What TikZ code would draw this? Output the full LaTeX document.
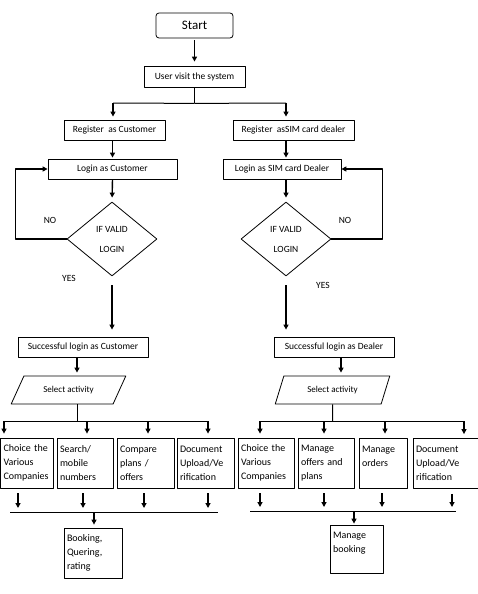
\documentclass[tikz,border=0pt]{standalone}
\usepackage{fontspec}
\setmainfont{Carlito}
\usetikzlibrary{shapes.geometric,arrows.meta}
\tikzset{
  box/.style={draw, line width=0.8pt, inner sep=0pt, font=\fontsize{9.5}{11}\selectfont},
  act/.style={draw, line width=0.8pt, inner sep=3pt, align=left, minimum height=50pt, font=\fontsize{10}{14}\selectfont},
  dia/.style={draw, line width=0.8pt, diamond, inner sep=0pt, minimum width=90pt, minimum height=74pt, align=center, font=\fontsize{9.5}{11}\selectfont},
  para/.style={draw, line width=0.8pt, trapezium, trapezium stretches, inner sep=0pt, minimum width=115pt, minimum height=28pt, font=\fontsize{9}{11}\selectfont},
  lbl/.style={font=\fontsize{9.5}{11}\selectfont},
  arr/.style={line width=1.4pt, -{Triangle[length=5pt,width=5pt]}},
  ln/.style={line width=1pt},
}
\begin{document}
\begin{tikzpicture}[x=1pt,y=-1pt,line join=round]
\useasboundingbox (0,0) rectangle (477,594);

\node[box, rounded corners=3pt, minimum width=77pt, minimum height=25pt, font=\fontsize{13}{15}\selectfont] (start) at (194.5,25.5) {Start};
\node[box, minimum width=101pt, minimum height=21pt] (visit) at (194.5,76.5) {User visit the system};
\node[box, minimum width=101pt, minimum height=20pt] (regc) at (114.5,130) {Register\ \ as Customer};
\node[box, minimum width=121pt, minimum height=20pt] (regd) at (293.5,130) {Register\ \ asSIM card dealer};
\node[box, minimum width=129pt, minimum height=20pt] (logc) at (112.5,169) {Login as Customer};
\node[box, minimum width=118pt, minimum height=20pt] (logd) at (282,169) {Login as SIM card Dealer};
\node[dia] (diac) at (112,239) {IF VALID\\[9pt]LOGIN};
\node[dia] (diad) at (286,239) {IF VALID\\[9pt]LOGIN};
\node[lbl] (noc) at (50,220) {NO};
\node[lbl] (nod) at (345,220) {NO};
\node[lbl] (yesc) at (69,278) {YES};
\node[lbl] (yesd) at (323,285) {YES};
\node[box, minimum width=130pt, minimum height=20pt] (succ) at (83,347) {Successful login as Customer};
\node[box, minimum width=120pt, minimum height=20pt] (sucd) at (334,347) {Successful login as Dealer};
\node[para, trapezium left angle=47, trapezium right angle=133] (selc) at (68.5,390) {Select activity};
\node[para, trapezium left angle=60, trapezium right angle=120] (seld) at (332.5,390) {Select activity};

\node[act, text width=47pt] (c1) at (27,463) {Choice the\\Various\\Companies};
\node[act, text width=50pt] (c2) at (85,463) {Search/\\mobile\\numbers};
\node[act, text width=51pt] (c3) at (145.5,463) {Compare\\plans /\\offers};
\node[act, text width=51pt] (c4) at (205.5,463) {Document\\Upload/Ve\\rification};
\node[act, text width=50pt] (d1) at (266,463) {Choice the\\Various\\Companies};
\node[act, text width=50pt] (d2) at (326,463) {Manage\\offers and\\plans};
\node[act, text width=42pt] (d3) at (383,463) {Manage\\orders\\\mbox{}};
\node[act, text width=63pt] (d4) at (447.5,463.5) {Document\\Upload/Ve\\rification};
\node[act, text width=52pt] (bookc) at (93,553) {Booking,\\Quering,\\rating};
\node[act, text width=47pt, minimum height=48pt] (bookd) at (356.5,549) {Manage\\booking\\\mbox{}};

\draw[arr, shorten <=2pt, shorten >=4pt] (start) -- (visit);
\draw[ln] (visit.south) -- ++(0,16) coordinate (vb);
\draw[ln] (vb) -- (113,103) coordinate (vl);
\draw[ln] (vb) -- (286,103) coordinate (vr);
\draw[arr, shorten >=3pt] (vl) -- (vl |- regc.north);
\draw[arr, shorten >=3pt] (vr) -- (vr |- regd.north);
\draw[arr, shorten >=1pt] (regc.south -| logc.north) -- (logc.north);
\draw[arr, shorten >=1pt] (vr |- regd.south) -- (vr |- logd.north);
\draw[arr, shorten >=4pt] (logc.south) -- (diac.north);
\draw[arr, shorten >=4pt] (logd.south -| diad.north) -- (diad.north);
\draw[arr] (diac.west) -| ([xshift=-32pt]logc.west) -- (logc.west);
\draw[arr] (diad.east) -| ([xshift=41pt]logd.east) -- (logd.east);
\draw[arr, shorten <=9pt, shorten >=7pt] (diac.south) -- (diac.south |- succ.north);
\draw[arr, shorten <=9pt, shorten >=7pt] (diad.south) -- (diad.south |- sucd.north);

\coordinate (bc) at (77,421);
\coordinate (bd) at (332.5,421);
\draw[arr, shorten >=3pt] (succ.south -| bc) -- (selc.north -| bc);
\draw[arr, shorten >=3pt] (sucd.south -| 341,0) -- (seld.north -| 341,0);
\draw[ln] (selc.south -| bc) -- (bc);
\draw[ln] (seld.south) -- (bd);
\draw[ln] (4,421) -- (208,421);
\draw[ln] (260,421) -- (464,421);
\foreach \x/\n in {4/c1,87/c2,148/c3,208/c4,260/d1,324/d2,385/d3,464/d4}
  \draw[arr, shorten >=4pt] (\x,421) -- (\x,0 |- \n.north);

\draw[ln] (10,512) -- (218,512) coordinate (ec);
\draw[ln] (250,511) -- (456,511) coordinate (ed);
\foreach \x/\n/\y in {18/c1/512,83/c2/512,144/c3/512,208/c4/512,260/d1/511,324/d2/511,382/d3/511,452/d4/511}
  \draw[arr, shorten <=5pt, shorten >=4pt] (\x,0 |- \n.south) -- (\x,\y);
\draw[arr, shorten >=3pt] (94,512) -- (94,0 |- bookc.north);
\draw[arr, shorten >=1pt] (354,511) -- (354,0 |- bookd.north);
\end{tikzpicture}
\end{document}
